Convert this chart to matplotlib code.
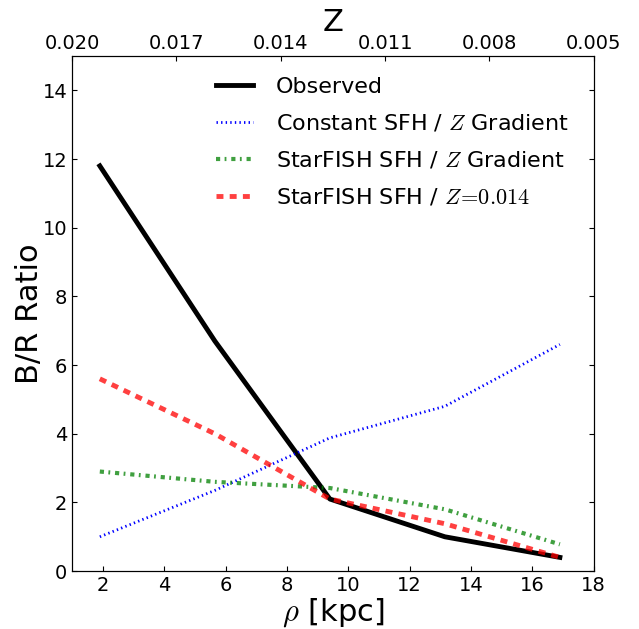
import matplotlib
matplotlib.use("Agg")
import matplotlib.pyplot as plt

plt.rcParams["mathtext.fontset"] = "cm"
plt.rcParams["xtick.direction"] = "in"
plt.rcParams["ytick.direction"] = "in"
plt.rcParams["lines.scale_dashes"] = False

rho = [1.9, 5.65, 9.4, 13.15, 16.9]
observed = [11.8, 6.7, 2.1, 1.0, 0.4]
const_grad = [1.0, 2.35, 3.88, 4.8, 6.6]
sf_grad = [2.9, 2.6, 2.42, 1.8, 0.78]
sf_fixed = [5.6, 4.0, 2.1, 1.38, 0.4]

z_ticks = [0.020, 0.017, 0.014, 0.011, 0.008, 0.005]

fig = plt.figure(figsize=(6.39, 6.29), dpi=100)
ax = fig.add_axes([0.113, 0.092, 0.816, 0.819])

ax.plot(rho, observed, color="k", lw=3.5, label="Observed")
ax.plot(rho, const_grad, color="b", ls=(0, (1, 2.3)), lw=2,
        label=r"Constant SFH / $Z$ Gradient")
ax.plot(rho, sf_grad, color="g", ls=(0, (3, 3.2, 1.3, 3.5)), lw=3, alpha=0.75,
        label=r"StarFISH SFH / $Z$ Gradient")
ax.plot(rho, sf_fixed, color="r", ls=(0, (5, 4.5)), lw=3.5, alpha=0.75,
        label=r"StarFISH SFH / $Z\!=\!0.014$")

ax.set_xlim(1, 18)
ax.set_ylim(0, 15)
ax.set_xticks(range(2, 19, 2))
ax.set_yticks(range(0, 15, 2))
ax.tick_params(labelsize=14, length=3.5, right=True)
ax.set_xlabel(r"$\rho$ [kpc]", fontsize=22, labelpad=1)
ax.set_ylabel("B/R Ratio", fontsize=22, labelpad=-1)

ax2 = ax.twiny()
ax2.set_xlim(0.020, 0.005)
ax2.set_xticks(z_ticks)
ax2.set_xticklabels(["%.3f" % z for z in z_ticks])
ax2.tick_params(labelsize=14, length=3.5, pad=2)
ax2.set_xlabel("Z", fontsize=22, labelpad=2)

ax.legend(loc="upper left", frameon=False, fontsize=16, handlelength=1.7,
          handletextpad=1.0, labelspacing=0.72,
          bbox_to_anchor=(0.306, 0.910), bbox_transform=fig.transFigure)

fig.savefig("out.png")
